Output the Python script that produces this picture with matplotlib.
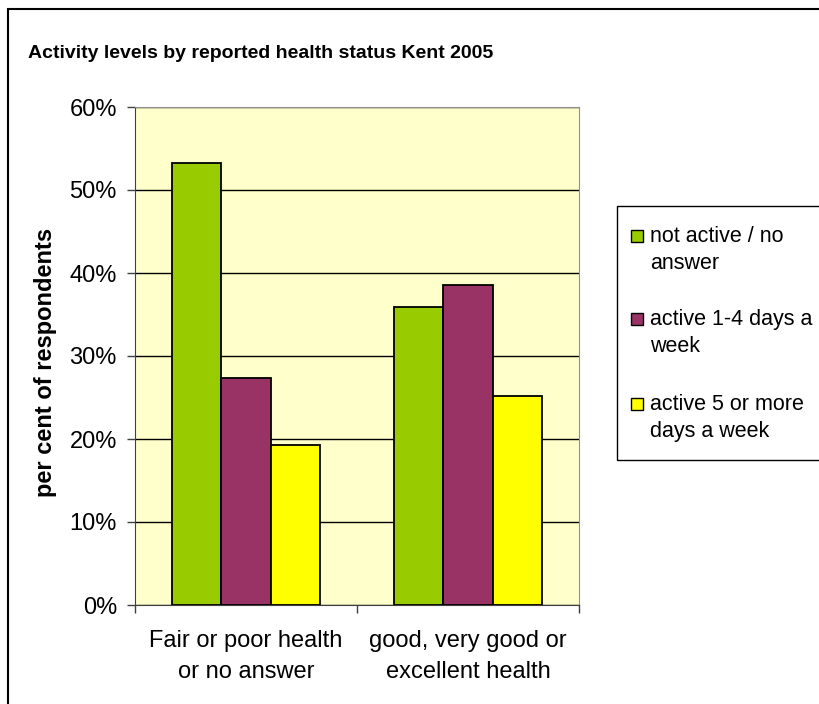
import numpy as np
import matplotlib.pyplot as plt
from matplotlib.patches import Rectangle

plt.rcParams['font.family'] = ['Liberation Sans', 'DejaVu Sans']

categories = ['Fair or poor health\nor no answer', 'good, very good or\nexcellent health']
series_names = ['not active / no\nanswer', 'active 1-4 days a\nweek', 'active 5 or more\ndays a week']
not_active = [0.532, 0.359]
active_1_4 = [0.273, 0.386]
active_5 = [0.193, 0.252]
colors = ['#99CC00', '#993366', '#FFFF00']

W, H = 819, 704
fig = plt.figure(figsize=(W / 100, H / 100), dpi=100)

# outer chart border (runs off the right and bottom of the picture)
fig.patches.append(Rectangle((8 / W, -0.1), 1.2, 1 - 9 / H + 0.1, transform=fig.transFigure,
                             fill=False, edgecolor='black', linewidth=1.5))

ax = fig.add_axes([135 / W, 1 - 605 / H, 444 / W, 498 / H])
ax.set_facecolor('#FFFFCC')

x = np.arange(len(categories))
w = 1 / 4.5
for i, (vals, c) in enumerate(zip([not_active, active_1_4, active_5], colors)):
    ax.bar(x + (i - 1) * w, vals, width=w, color=c, edgecolor='black', linewidth=1.3, zorder=3)

ax.set_xlim(-0.5, len(categories) - 0.5)
ax.set_ylim(0, 0.6)
ax.set_yticks(np.arange(0, 0.61, 0.1))
ax.set_yticklabels([f'{int(round(v * 100))}%' for v in np.arange(0, 0.61, 0.1)], fontsize=17)
ax.yaxis.grid(True, color='black', linewidth=1, zorder=1)
ax.set_axisbelow(True)
ax.tick_params(axis='y', length=6, width=1, pad=7, color='#404040')

ax.set_xticks(np.arange(-0.5, len(categories), 1.0))
ax.set_xticklabels([])
ax.set_xticks(x, minor=True)
ax.set_xticklabels(categories, minor=True, fontsize=17, linespacing=1.5)
ax.tick_params(axis='x', which='major', length=6, width=1, color='#404040')
ax.tick_params(axis='x', which='minor', length=0, pad=18)

ax.spines['left'].set_color('#404040')
ax.spines['bottom'].set_color('#404040')
ax.spines['top'].set_color('#909090')
ax.spines['right'].set_color('#909090')

ax.set_ylabel('per cent of respondents', fontsize=17, fontweight='bold')
ax.yaxis.set_label_coords(-(135 - 57) / 444, (605 - 362) / 498)

fig.text(261 / W, 1 - 54 / H, 'Activity levels by reported health status Kent 2005',
         ha='center', va='center', fontsize=14, fontweight='bold')

# legend box
fig.patches.append(Rectangle((617 / W, 1 - 460 / H), 0.5, 254 / H, transform=fig.transFigure,
                             fill=False, edgecolor='black', linewidth=1))
entry_y = [236, 319, 404]
for name, c, yy in zip(series_names, colors, entry_y):
    fig.patches.append(Rectangle((631 / W, 1 - (yy + 6) / H), 12 / W, 12 / H,
                                 transform=fig.transFigure, facecolor=c,
                                 edgecolor='black', linewidth=1))
    fig.text(650 / W, 1 - (yy - 10) / H, name, ha='left', va='top', fontsize=15.5,
             linespacing=1.4)

fig.savefig('out.png', dpi=100)
